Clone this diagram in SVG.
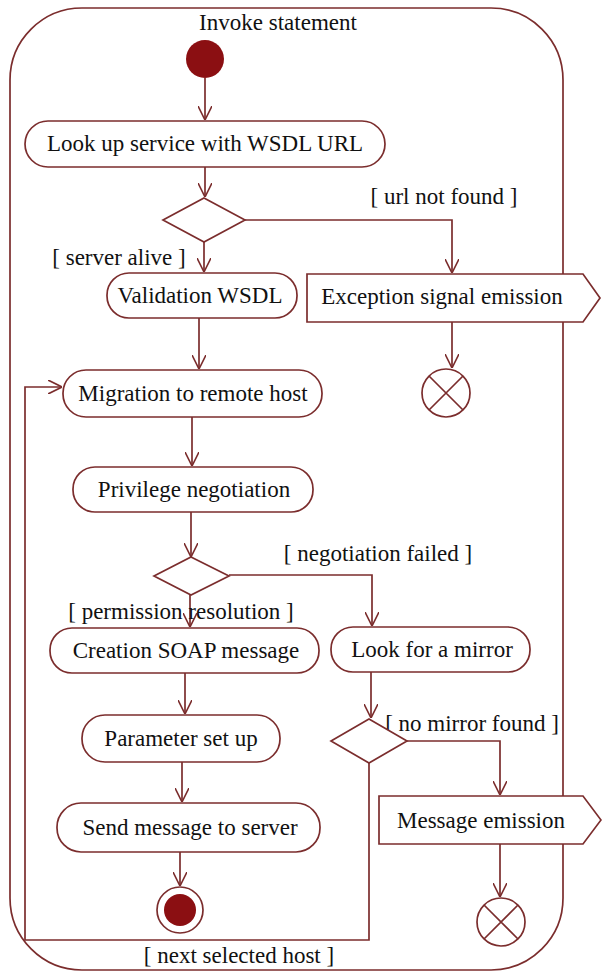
<svg xmlns="http://www.w3.org/2000/svg" width="602" height="975" viewBox="0 0 602 975">
<style>
.ln{fill:none;stroke:#7b2d2d;stroke-width:1.7}
.act{fill:#ffffff;stroke:#7b2d2d;stroke-width:1.7}
.t{font-family:"Liberation Serif","Times New Roman",serif;font-size:23px;fill:#111;text-anchor:middle}
.dot{fill:#8b0f12}
</style>
<defs>
<marker id="arr" markerUnits="userSpaceOnUse" markerWidth="14" markerHeight="14" viewBox="0 0 12 12" refX="12" refY="6" orient="auto">
<path d="M0,0 L12,6 L0,12" fill="none" stroke="#7b2d2d" stroke-width="1.4"/>
</marker>
</defs>
<rect width="602" height="975" fill="#ffffff"/>
<g id="frame">
<rect class="ln" x="10" y="8" width="553" height="962" rx="72" ry="72"/>
<text class="t" x="278" y="30">Invoke statement</text>
</g>
<g id="connectors">
<path class="ln" d="M205,78 V120" marker-end="url(#arr)"/>
<path class="ln" d="M205,167 V197" marker-end="url(#arr)"/>
<path class="ln" d="M204,242 V272" marker-end="url(#arr)"/>
<path class="ln" d="M245,220 H452 V273" marker-end="url(#arr)"/>
<path class="ln" d="M452,322 V368" marker-end="url(#arr)"/>
<path class="ln" d="M199,318 V369" marker-end="url(#arr)"/>
<path class="ln" d="M192,417 V466" marker-end="url(#arr)"/>
<path class="ln" d="M191,512 V557" marker-end="url(#arr)"/>
<path class="ln" d="M229,575 H372 V626" marker-end="url(#arr)"/>
<path class="ln" d="M190,595 V627" marker-end="url(#arr)"/>
<path class="ln" d="M185,673 V714" marker-end="url(#arr)"/>
<path class="ln" d="M182,762 V802" marker-end="url(#arr)"/>
<path class="ln" d="M180,852 V886" marker-end="url(#arr)"/>
<path class="ln" d="M371,672 V718" marker-end="url(#arr)"/>
<path class="ln" d="M407,741 H500 V795" marker-end="url(#arr)"/>
<path class="ln" d="M500,844 V897" marker-end="url(#arr)"/>
<path class="ln" d="M369,763 V940 H25 V387 H62" marker-end="url(#arr)"/>
<text class="t" x="444" y="204">[ url not found ]</text>
<text class="t" x="119" y="265">[ server alive ]</text>
<text class="t" x="378" y="561">[ negotiation failed ]</text>
<text class="t" x="181" y="619">[ permission resolution ]</text>
<text class="t" x="472" y="731">[ no mirror found ]</text>
<text class="t" x="239" y="963">[ next selected host ]</text>
</g>
<g id="start">
<circle class="dot" cx="205" cy="59" r="19"/>
</g>
<g id="lookup">
<rect class="act" x="25" y="121" width="360" height="46" rx="23"/>
<text class="t" x="205" y="151">Look up service with WSDL URL</text>
</g>
<g id="decision1">
<polygon class="act" points="204,198 245,220 204,242 163,220"/>
</g>
<g id="validation">
<rect class="act" x="107" y="273" width="190" height="45" rx="22"/>
<text class="t" x="200" y="303">Validation WSDL</text>
</g>
<g id="exception">
<polygon class="act" points="307,274 583,274 600,298 583,322 307,322"/>
<text class="t" x="442" y="304">Exception signal emission</text>
</g>
<g id="flowfinal1">
<circle class="act" cx="446" cy="393" r="24"/>
<path class="ln" d="M429,376 L463,410 M463,376 L429,410"/>
</g>
<g id="migration">
<rect class="act" x="63" y="370" width="259" height="47" rx="23"/>
<text class="t" x="193" y="401">Migration to remote host</text>
</g>
<g id="privilege">
<rect class="act" x="73" y="467" width="240" height="45" rx="22"/>
<text class="t" x="194" y="497">Privilege negotiation</text>
</g>
<g id="decision2">
<polygon class="act" points="191,557 229,576 191,595 154,576"/>
</g>
<g id="creation">
<rect class="act" x="50" y="628" width="269" height="45" rx="22"/>
<text class="t" x="186" y="658">Creation SOAP message</text>
</g>
<g id="mirror">
<rect class="act" x="331" y="627" width="199" height="45" rx="22"/>
<text class="t" x="432" y="657">Look for a mirror</text>
</g>
<g id="decision3">
<polygon class="act" points="369,719 407,741 369,763 331,741"/>
</g>
<g id="parameter">
<rect class="act" x="82" y="715" width="198" height="47" rx="23"/>
<text class="t" x="181" y="746">Parameter set up</text>
</g>
<g id="send">
<rect class="act" x="57" y="803" width="263" height="49" rx="24"/>
<text class="t" x="190" y="835">Send message to server</text>
</g>
<g id="final">
<circle class="act" cx="180" cy="910" r="23"/>
<circle class="dot" cx="180" cy="910" r="16"/>
</g>
<g id="message">
<polygon class="act" points="379,796 583,796 601,820 583,844 379,844"/>
<text class="t" x="481" y="828">Message emission</text>
</g>
<g id="flowfinal2">
<circle class="act" cx="501" cy="922" r="24"/>
<path class="ln" d="M484,905 L518,939 M518,905 L484,939"/>
</g>
</svg>
